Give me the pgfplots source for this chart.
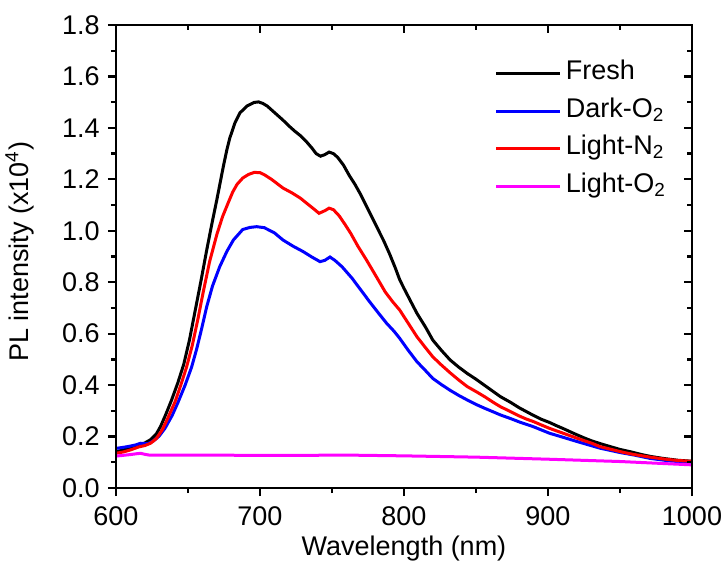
\documentclass[border=0pt]{standalone}
\usepackage{fontspec}
\setmainfont{Liberation Sans}
\usepackage{pgfplots}
\pgfplotsset{compat=1.18}

\definecolor{cfresh}{RGB}{0,0,0}
\definecolor{cdark}{RGB}{0,0,255}
\definecolor{clightn}{RGB}{255,0,0}
\definecolor{clighto}{RGB}{255,0,255}

\newcommand{\lbl}{\fontsize{13.5}{16}\selectfont}

\pgfplotsset{
  plbase/.style={
    at={(0,0)}, anchor=south west,
    scale only axis, width=288pt, height=231.5pt,
    xmin=600, xmax=1000, ymin=0, ymax=1.8,
    xtick={600,700,...,1000}, ytick={0,0.2,...,1.8},
    minor x tick num=1, minor y tick num=1,
    axis line style={line width=1.15pt},
    major tick length=4pt, minor tick length=2.5pt,
    every tick/.style={black, line width=1.15pt},
    every minor tick/.style={black, line width=1.15pt},
  },
}

\pgfplotstableread{
x y
600 0.141
605 0.148
610 0.155
616 0.166
620 0.175
624 0.188
628 0.210
631 0.240
634.5 0.285
638.6 0.342
643 0.410
647 0.480
651 0.575
655 0.690
659 0.805
663 0.925
666.5 1.025
670 1.120
674.5 1.249
677 1.315
679 1.360
682.5 1.418
686 1.458
691 1.485
696 1.499
699 1.501
702 1.495
705 1.485
708 1.470
712 1.450
716 1.430
720 1.408
724 1.388
728 1.370
732 1.348
736 1.322
739 1.300
742 1.290
745 1.296
748 1.306
751 1.300
754 1.285
758 1.255
762 1.215
766 1.180
770 1.140
774 1.095
778 1.050
782 1.005
786 0.960
790 0.910
794 0.855
797 0.810
800 0.776
805 0.722
809 0.679
815 0.625
820 0.575
826 0.535
832 0.498
838 0.470
844 0.445
850 0.423
856 0.399
862 0.375
867 0.355
874 0.333
880 0.312
885 0.297
890 0.282
895 0.268
901 0.255
906 0.242
911 0.230
918 0.212
925 0.195
930 0.184
936 0.173
942 0.163
950 0.150
958 0.140
965 0.130
971 0.123
980 0.115
990 0.108
1000 0.104
}\fresh

\pgfplotstableread{
x y
600 0.154
605 0.158
610 0.163
614 0.168
617 0.174
622 0.172
626 0.183
630 0.202
634 0.232
639 0.282
643 0.332
648 0.400
652.5 0.470
656 0.540
659.5 0.620
663 0.705
667 0.785
672 0.860
677 0.920
681.5 0.964
688 1.005
693 1.013
697.7 1.016
703 1.012
710 0.992
716 0.964
723 0.940
730 0.919
736 0.898
741.7 0.880
745 0.885
748.6 0.898
752 0.885
757 0.860
764 0.815
770 0.770
776 0.725
782 0.682
788 0.640
793 0.610
797 0.582
803 0.535
809 0.491
815 0.456
820 0.426
826 0.402
832 0.380
838 0.360
844 0.342
850 0.325
856 0.310
862 0.296
867 0.284
874 0.270
880 0.257
890 0.238
901 0.213
910 0.198
920 0.181
936 0.155
950 0.138
960 0.128
971 0.115
985 0.105
1000 0.100
}\darko

\pgfplotstableread{
x y
600 0.135
605 0.140
610 0.148
616 0.160
620 0.165
624 0.174
628 0.192
632 0.225
636 0.272
641 0.335
645 0.400
649 0.470
653 0.555
657 0.660
660.5 0.760
665 0.880
670 0.985
674 1.055
678 1.110
681 1.150
684 1.180
688 1.205
692 1.219
696 1.227
700 1.226
703 1.218
708 1.200
712 1.183
716 1.166
722 1.148
728 1.127
734 1.100
738 1.082
741 1.068
745 1.078
748 1.088
751 1.082
755 1.058
759 1.025
763 0.990
768 0.940
774 0.886
778 0.848
782 0.810
787 0.762
792 0.725
797 0.692
803 0.640
809 0.588
815 0.545
820 0.510
826 0.478
832 0.448
838 0.420
844 0.394
850 0.375
856 0.355
862 0.333
867 0.316
874 0.297
880 0.280
885 0.268
890 0.258
895 0.246
901 0.232
906 0.222
912 0.210
918 0.198
925 0.184
930 0.175
936 0.161
944 0.150
952 0.139
960 0.130
971 0.120
980 0.113
990 0.107
1000 0.104
}\lightn

\pgfplotstableread{
x y
600 0.124
605 0.127
610 0.130
614 0.133
617 0.135
620 0.131
623 0.128
650 0.128
700 0.127
730 0.127
760 0.128
800 0.125
850 0.120
900 0.112
950 0.103
1000 0.090
}\lighto

\begin{document}
\begin{tikzpicture}
\useasboundingbox (-58pt,-43pt) rectangle (305pt,244pt);
\begin{axis}[
  plbase,
  tick align=outside, tick pos=left,
  xticklabel style={font=\lbl, inner sep=0pt, anchor=north},
  yticklabel style={font=\lbl, inner sep=0pt, anchor=east},
  xticklabel shift=5pt, yticklabel shift=4pt,
  /pgf/number format/assume math mode=true,
  /pgf/number format/1000 sep={},
  y tick label style={/pgf/number format/.cd, fixed, fixed zerofill, precision=1},
  xlabel={Wavelength (nm)},
  ylabel={PL intensity (x10\textsuperscript{4})},
  xlabel style={font=\lbl, at={(axis description cs:0.5,-0.13)}, anchor=center},
  ylabel style={font=\lbl, at={(axis description cs:-0.167,0.51)}, anchor=center},
  legend style={at={(0.657,0.926)}, anchor=north west, draw=none, fill=none,
    font=\lbl, inner sep=0pt, row sep=4.75pt, column sep=1pt,
    nodes={inner sep=1pt, text height=9pt, text depth=3pt}},
  legend cell align=left,
  legend image code/.code={\draw[#1] (0pt,0pt) -- (32pt,0pt);},
  every axis plot/.append style={line width=1.5pt},
]
\addplot[cfresh] table[x=x,y=y] {\fresh};
\addlegendentry{Fresh}
\addplot[cdark] table[x=x,y=y] {\darko};
\addlegendentry{Dark-O\textsubscript{2}}
\addplot[clightn] table[x=x,y=y] {\lightn};
\addlegendentry{Light-N\textsubscript{2}}
\addplot[clighto] table[x=x,y=y] {\lighto};
\addlegendentry{Light-O\textsubscript{2}}
\end{axis}
\begin{axis}[
  plbase,
  tick align=inside, tick pos=right,
  xticklabels={}, yticklabels={},
]
\end{axis}
\end{tikzpicture}
\end{document}
